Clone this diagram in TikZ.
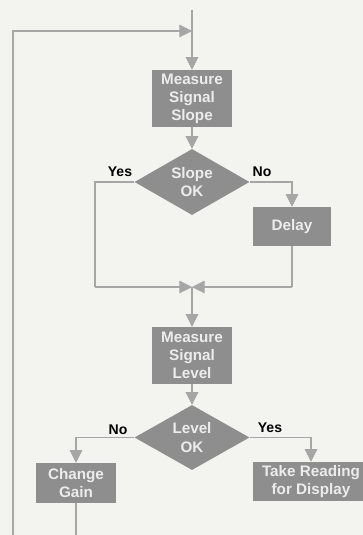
\documentclass[tikz,border=0pt]{standalone}
\usepackage{fontspec}
\newfontfamily\flowfont{Liberation Sans}
\usepackage{tikz}
\usetikzlibrary{shapes,arrows.meta}
\definecolor{paper}{HTML}{F3F3F0}
\definecolor{boxgray}{HTML}{8E8E8E}
\definecolor{linegray}{HTML}{A6A6A6}
\definecolor{boxtext}{HTML}{ECECEC}
\tikzstyle{block} = [draw=none, fill=boxgray, text=boxtext, align=center, inner sep=0pt, font=\flowfont\bfseries\fontsize{13}{15.5}\selectfont]
\tikzstyle{decision} = [diamond, aspect=1.75, fill=boxgray, text=boxtext, align=center, inner sep=0pt, minimum width=3.45cm, minimum height=1.98cm, font=\flowfont\bfseries\fontsize{13}{15.5}\selectfont]
\tikzstyle{line} = [draw=linegray, line width=0.9pt]
\tikzstyle{arr} = [line, -{Triangle[length=0.38cm,width=0.38cm]}, color=linegray]
\tikzstyle{answer} = [font=\flowfont\bfseries\fontsize{12}{14}\selectfont, text=black]

\begin{document}
\begin{tikzpicture}
	\fill[paper] (0,0) rectangle (10.89,-16.05);
	\useasboundingbox (0,0) rectangle (10.89,-16.05);
	% blocks
	\node[block, minimum width=2.4cm, minimum height=1.71cm] (slope) at (5.76,-2.955) {Measure\\Signal\\Slope};
	\node[decision] (slopeok) at (5.76,-5.46) {Slope\\OK};
	\node[block, minimum width=2.34cm, minimum height=1.17cm] (delay) at (8.76,-6.795) {Delay};
	\node[block, minimum width=2.4cm, minimum height=1.71cm] (level) at (5.76,-10.665) {Measure\\Signal\\Level};
	\node[decision, minimum height=1.95cm] (levelok) at (5.76,-13.125) {Level\\OK};
	\node[block, minimum width=2.4cm, minimum height=1.2cm] (gain) at (2.28,-14.49) {Change\\Gain};
	\node[block, minimum width=3.48cm, minimum height=1.17cm] (take) at (9.33,-14.445) {Take Reading\\for Display};
	% points
	\coordinate (top) at (5.76,-0.3);
	\coordinate (join) at (5.76,-0.93);
	\coordinate (merge) at (5.76,-8.61);
	\coordinate (yesfoot) at (2.85,-8.61);
	\coordinate (nofoot) at (8.76,-8.61);
	\coordinate (loopfoot) at (0.39,-16.05);
	\coordinate (gainfoot) at (2.28,-16.05);
	% connectors
	\draw[arr] (top) -- (slope.north);
	\draw[arr] (loopfoot) |- (join);
	\draw[arr] (slope.south) -- (slopeok.north);
	\draw[line] (slopeok.west) -| (yesfoot);
	\draw[arr] (yesfoot) -- (merge);
	\draw[arr] (slopeok.east) -| (delay.north);
	\draw[line] (delay.south) -- (nofoot);
	\draw[arr] (nofoot) -- (merge);
	\draw[arr] (merge) -- (level.north);
	\draw[arr] (level.south) -- (levelok.north);
	\draw[arr] (levelok.west) -| (gain.north);
	\draw[arr] (levelok.east) -| (take.north);
	\draw[line] (gain.south) -- (gainfoot);
	% answers
	\node[answer] (slopeyes) at (3.6,-5.16) {Yes};
	\node[answer] (slopeno) at (7.86,-5.16) {No};
	\node[answer] (levelno) at (3.54,-12.9) {No};
	\node[answer] (levelyes) at (8.1,-12.84) {Yes};
\end{tikzpicture}
\end{document}
